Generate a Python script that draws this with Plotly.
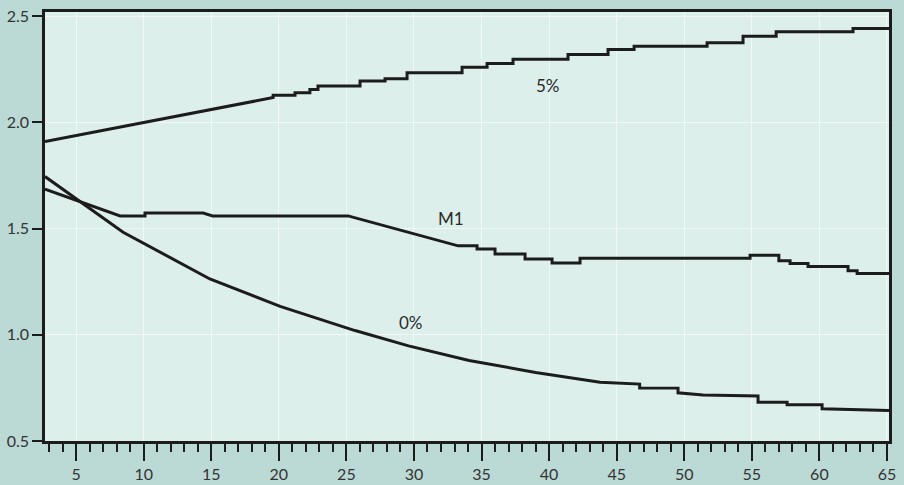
import plotly.graph_objects as go

# --- data ---
x_5 = [2.7, 19.58, 19.58, 21.2, 21.2, 22.3, 22.3, 22.9, 22.9, 26.01, 26.01, 27.86, 27.86,
       29.49, 29.49, 33.56, 33.56, 35.41, 35.41, 37.33, 37.33, 41.40, 41.40, 44.36, 44.36,
       46.29, 46.29, 51.69, 51.69, 54.35, 54.35, 56.80, 56.80, 62.49, 62.49, 65.15]
y_5 = [1.910, 2.117, 2.128, 2.128, 2.140, 2.140, 2.155, 2.155, 2.171, 2.171, 2.195, 2.195, 2.206,
       2.206, 2.234, 2.234, 2.260, 2.260, 2.278, 2.278, 2.297, 2.297, 2.320, 2.320, 2.344,
       2.344, 2.359, 2.359, 2.375, 2.375, 2.406, 2.406, 2.427, 2.427, 2.442, 2.442]

x_m1 = [2.7, 8.26, 10.1, 10.1, 14.4, 15.1, 25.13, 33.27, 34.67, 34.67, 36.0, 36.0, 38.22, 38.22,
        40.22, 40.22, 42.29, 42.29, 54.87, 54.87, 57.0, 57.0, 57.83, 57.83, 59.16, 59.16,
        62.12, 62.12, 62.79, 62.79, 65.15]
y_m1 = [1.686, 1.560, 1.560, 1.573, 1.573, 1.560, 1.560, 1.419, 1.419, 1.404, 1.404, 1.380, 1.380, 1.357,
        1.357, 1.338, 1.338, 1.360, 1.360, 1.375, 1.375, 1.349, 1.349, 1.336, 1.336, 1.322,
        1.322, 1.302, 1.302, 1.289, 1.289]

x_0 = [2.7, 8.48, 14.9, 20.1, 25.64, 29.6, 34.08, 39.0, 43.77, 46.7, 46.7, 47.47, 49.54, 49.54,
       51.39, 55.46, 55.46, 57.61, 57.61, 60.2, 60.2, 65.15]
y_0 = [1.745, 1.483, 1.263, 1.134, 1.020, 0.948, 0.879, 0.823, 0.777, 0.768, 0.750, 0.749, 0.749, 0.727,
       0.717, 0.712, 0.683, 0.683, 0.671, 0.671, 0.652, 0.644]

labels = ["5%", "M1", "0%"]
label_x = [39.9, 32.75, 29.8]
label_y = [2.172, 1.549, 1.058]

x_ticks = [5, 10, 15, 20, 25, 30, 35, 40, 45, 50, 55, 60, 65]
y_ticks = [0.5, 1.0, 1.5, 2.0, 2.5]

FONT = "Lato"
line_style = dict(color="#1c1c1c", width=3)

fig = go.Figure()
for xs, ys in [(x_5, y_5), (x_m1, y_m1), (x_0, y_0)]:
    fig.add_trace(go.Scatter(x=xs, y=ys, mode="lines", line=line_style,
                             showlegend=False, hoverinfo="skip"))

for t, lx, ly in zip(labels, label_x, label_y):
    fig.add_annotation(x=lx, y=ly, text=t, showarrow=False,
                       font=dict(family=FONT, size=17, color="#2a2a2a"))

fig.update_layout(
    width=904, height=485,
    margin=dict(l=45, r=15, t=12, b=44),
    paper_bgcolor="#bcdad5",
    plot_bgcolor="#ddefea",
    font=dict(family=FONT, size=16, color="#3a3a3a"),
)
fig.update_xaxes(
    range=[2.7, 65.15], tickvals=x_ticks, ticktext=[str(v) for v in x_ticks],
    ticks="outside", ticklen=17, tickwidth=2, tickcolor="#1c1c1c",
    showline=True, linecolor="#1c1c1c", linewidth=2.5, mirror=True,
    showgrid=True, gridcolor="rgba(255,255,255,0.6)", gridwidth=1,
    zeroline=False, automargin=False,
    minor=dict(dtick=1, tick0=0, ticks="outside", ticklen=8, tickwidth=1.5,
               tickcolor="#1c1c1c", showgrid=False),
    tickfont=dict(family=FONT, size=16, color="#333333"),
)
fig.update_yaxes(
    range=[0.5, 2.52], tickvals=y_ticks, ticktext=[f"{v:.1f}" for v in y_ticks],
    ticks="outside", ticklen=10, tickwidth=1.5, tickcolor="#1c1c1c",
    showline=True, linecolor="#1c1c1c", linewidth=2.5, mirror=True,
    showgrid=True, gridcolor="rgba(255,255,255,0.6)", gridwidth=1,
    zeroline=False, automargin=False,
    tickfont=dict(family=FONT, size=16, color="#333333"),
)

fig.write_html("out.html")
